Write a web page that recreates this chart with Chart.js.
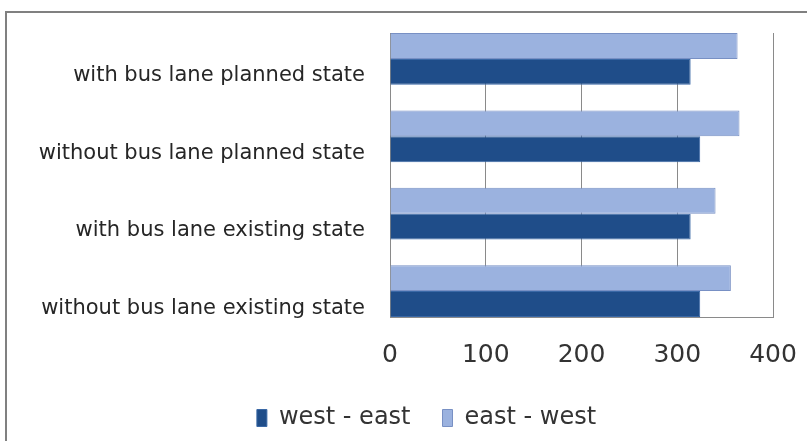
<!DOCTYPE html>
<html>
<head>
<meta charset="utf-8">
<script src="https://cdn.jsdelivr.net/npm/chart.js@4"></script>
<style>
  html, body { margin: 0; padding: 0; background: #fff; }
  #wrap { position: relative; width: 807px; height: 441px; overflow: hidden; }
  #frame { position: absolute; left: 5px; top: 11px; width: 900px; height: 500px; border: 2px solid #808080; box-sizing: border-box; }
  #Chart { position: absolute; left: 0; top: 0; }
</style>
</head>
<body>
<div id="wrap">
  <div id="frame"></div>
  <canvas id="Chart" width="807" height="441"></canvas>
</div>
<script>
// categories, top to bottom
const categories = [
  'with bus lane planned state',
  'without bus lane planned state',
  'with bus lane existing state',
  'without bus lane existing state'
];
const westEast = [314, 324, 314, 324];
const eastWest = [363, 365, 340, 356];
const xTicks = [0, 100, 200, 300, 400];

const gridGray = '#8a8a8a';
const legendPad = 32;
const legendFont = 24;

// bars sit on a numeric index axis so the groups can fill the plot edge to edge
function toPoints(values) {
  return values.map((v, i) => ({ x: v, y: i }));
}

const data = {
  datasets: [{
    label: 'east - west',
    data: toPoints(eastWest),
    backgroundColor: '#9bb2df',
    borderColor: '#7890c4',
    borderWidth: 1
  },
  {
    label: 'west - east',
    data: toPoints(westEast),
    backgroundColor: '#1f4d89',
    borderColor: '#3a68a6',
    borderWidth: 1
  }]
};

// legend sits a bit right of the canvas centre in the original, row centred near the bottom
const legendShift = {
  id: 'legendShift',
  afterLayout(chart) {
    const lg = chart.legend;
    const dx = 30;
    const dy = 418 - (lg.top + legendPad + legendFont / 2);
    lg.left += dx;
    lg.right += dx;
    lg.top += dy;
    lg.bottom += dy;
  }
};

const config = {
  type: 'bar',
  data,
  plugins: [legendShift],
  options: {
    indexAxis: 'y',
    responsive: false,
    animation: false,
    categoryPercentage: 0.668,
    barPercentage: 1,
    layout: { padding: { left: 20, right: 34, top: 33, bottom: 0 } },
    scales: {
      x: {
        type: 'linear',
        min: 0,
        max: 400,
        afterBuildTicks(scale) {
          scale.ticks = xTicks.map(v => ({ value: v }));
        },
        afterFit(scale) {
          scale.height = 58;
          scale.paddingLeft = 0;
          scale.paddingRight = 0;
        },
        grid: { color: gridGray, lineWidth: 1, drawTicks: false },
        border: { color: gridGray, width: 1 },
        ticks: {
          padding: 23,
          color: '#333',
          font: { family: 'DejaVu Sans', size: 25 }
        }
      },
      y: {
        type: 'linear',
        reverse: true,
        offset: false,
        min: -0.335,
        max: 3.335,
        afterBuildTicks(scale) {
          scale.ticks = categories.map((c, i) => ({ value: i }));
        },
        afterFit(scale) {
          scale.width = 370;
          scale.paddingTop = 0;
          scale.paddingBottom = 0;
        },
        grid: { display: false, drawTicks: false },
        border: { display: true, color: gridGray, width: 1 },
        ticks: {
          padding: 25,
          labelOffset: 17,
          color: '#262626',
          font: { family: 'DejaVu Sans', size: 21 },
          callback: v => categories[v]
        }
      }
    },
    plugins: {
      legend: {
        position: 'bottom',
        reverse: true,
        labels: {
          boxWidth: 10,
          boxHeight: 17,
          padding: legendPad,
          color: '#333',
          font: { family: 'DejaVu Sans', size: legendFont }
        }
      },
      tooltip: { enabled: false }
    }
  }
};

const spChart = new Chart(document.getElementById('Chart'), config);
</script>
</body>
</html>
